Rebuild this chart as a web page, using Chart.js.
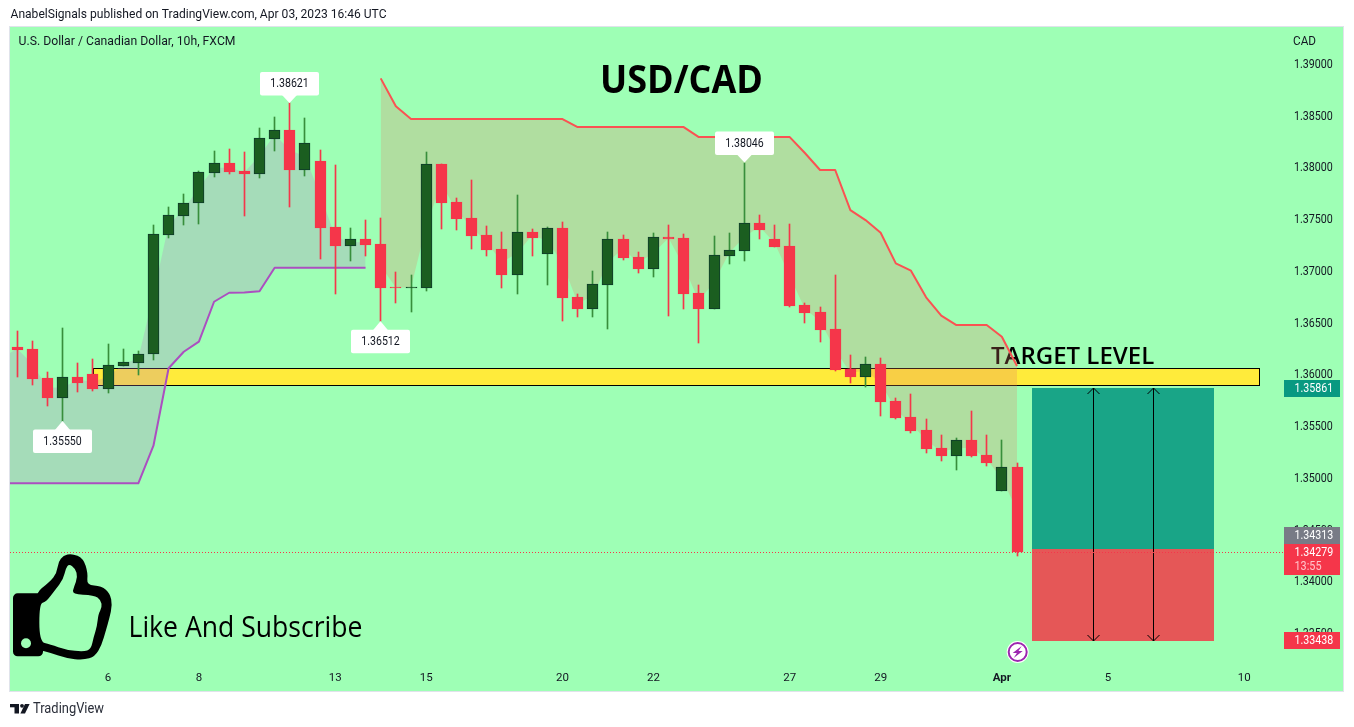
<!DOCTYPE html>
<html><head><meta charset="utf-8">
<style>html,body{margin:0;padding:0;background:#fff;overflow:hidden}canvas{display:block}</style>
<script src="https://cdn.jsdelivr.net/npm/chart.js@4"></script>
</head><body><canvas id="c" width="1354" height="727"></canvas>
<script>
const opens=[1.36264,1.36244,1.35964,1.35774,1.35974,1.36003,1.35861,1.36083,1.36112,1.36193,
1.37349,1.37532,1.37652,1.37947,1.38041,1.37964,1.37938,1.38276,1.38360,1.37976,
1.38060,1.37423,1.37242,1.37307,1.37259,1.36843,1.36834,1.36837,1.38031,1.37664,
1.37510,1.37346,1.37210,1.36962,1.37375,1.37165,1.37413,1.36747,1.36634,1.36866,
1.37307,1.37133,1.37020,1.37326,1.37317,1.36785,1.36634,1.37146,1.37194,1.37462,
1.37307,1.37239,1.36669,1.36602,1.36438,1.36051,1.35977,1.36099,1.35742,1.35588,
1.35462,1.35288,1.35214,1.35365,1.35220,1.34876,1.35105];
const closes=[1.36235,1.35955,1.35774,1.35971,1.35916,1.35858,1.36087,1.36116,1.36193,1.37352,
1.37536,1.37652,1.37951,1.38038,1.37954,1.37938,1.38280,1.38357,1.37974,1.38231,
1.37413,1.37239,1.37304,1.37249,1.36834,1.36834,1.36843,1.38029,1.37655,1.37500,
1.37336,1.37201,1.36959,1.37372,1.37317,1.37410,1.36737,1.36631,1.36869,1.37304,
1.37123,1.37017,1.37323,1.37307,1.36776,1.36631,1.37150,1.37198,1.37459,1.37394,
1.37230,1.36660,1.36592,1.36428,1.36042,1.35974,1.36097,1.35732,1.35578,1.35452,
1.35278,1.35211,1.35362,1.35211,1.35143,1.35102,1.34279];
const highs=[1.36418,1.36322,1.36022,1.36447,1.36109,1.36148,1.36293,1.36244,1.36225,1.37442,
1.37616,1.37742,1.37961,1.38157,1.38176,1.38147,1.38379,1.38486,1.38621,1.38476,
1.38167,1.38022,1.37413,1.37491,1.37510,1.36988,1.36959,1.38147,1.38031,1.37703,
1.37877,1.37433,1.37375,1.37732,1.37404,1.37423,1.37471,1.36776,1.36998,1.37375,
1.37346,1.37181,1.37365,1.37442,1.37355,1.36863,1.37336,1.37365,1.38046,1.37539,
1.37442,1.37452,1.36689,1.36650,1.36959,1.36186,1.36167,1.36157,1.35771,1.35810,
1.35568,1.35414,1.35385,1.35645,1.35414,1.35365,1.35143];
const lows=[1.35977,1.35897,1.35697,1.35550,1.35832,1.35842,1.35822,1.36083,1.35996,1.36141,
1.37320,1.37442,1.37455,1.37909,1.37938,1.37532,1.37899,1.38160,1.37619,1.37918,
1.37117,1.36776,1.37097,1.37146,1.36512,1.36689,1.36602,1.36808,1.37404,1.37394,
1.37210,1.37143,1.36834,1.36776,1.37143,1.36863,1.36515,1.36554,1.36554,1.36438,
1.37104,1.36979,1.36940,1.36563,1.36631,1.36302,1.36631,1.37066,1.37094,1.37307,
1.37230,1.36650,1.36496,1.36312,1.36032,1.35916,1.35877,1.35597,1.35568,1.35433,
1.35240,1.35162,1.35076,1.35201,1.35114,1.34873,1.34245];
// Body mid-points from bar -1 (just off the left edge) to bar 66
const bodyMid=[1.36157,1.36250,1.36100,1.35869,1.35873,1.35945,1.35931,1.35974,1.36100,1.36153,1.36773,
1.37443,1.37592,1.37802,1.37993,1.37998,1.37951,1.38109,1.38317,1.38167,1.38104,
1.37737,1.37331,1.37273,1.37278,1.37047,1.36839,1.36839,1.37433,1.37843,1.37582,
1.37423,1.37274,1.37085,1.37167,1.37346,1.37288,1.37075,1.36689,1.36752,1.37085,
1.37215,1.37075,1.37172,1.37317,1.37047,1.36708,1.36892,1.37172,1.37327,1.37428,
1.37269,1.36950,1.36631,1.36515,1.36240,1.36013,1.36037,1.35916,1.35660,1.35520,
1.35370,1.35250,1.35288,1.35288,1.35182,1.34989,1.34692];
const supportLine=[1.34947,1.34947,1.34947,1.34947,1.34947,1.34947,1.34947,1.34947,1.34947,1.34947,
1.35310,1.36058,1.36218,1.36315,1.36701,1.36788,1.36790,1.36802,
1.37030,1.37030,1.37030,1.37030,1.37030,1.37030,1.37030];
const resistanceLine=[1.38859,1.38589,
1.38466,1.38466,1.38466,1.38466,1.38466,1.38466,1.38466,1.38466,1.38466,1.38466,1.38466,
1.38389,1.38389,1.38389,1.38389,1.38389,1.38389,1.38389,1.38389,
1.38292,1.38292,1.38292,1.38292,1.38292,1.38292,1.38292,
1.38138,1.37974,1.37974,1.37587,1.37490,1.37368,1.37072,1.37001,1.36744,1.36566,1.36476,1.36476,1.36476,1.36363,1.36080];
const xTickPositions=[6,12,21,27,36,42,51,57,65,72,81];
const xTickLabels=['6','8','13','15','20','22','27','29','Apr','5','10'];
const yTickValues=[1.39,1.385,1.38,1.375,1.37,1.365,1.36,1.355,1.35,1.345,1.34,1.335];
const xRange=[-0.469,83.623];
const yRange=[1.331913,1.393556];
const zoneX=[5,81.96];
const zonePrice=[1.35894,1.36058];
const toolX=[67,79];
const toolPrice={target:1.35861,entry:1.34313,stop:1.33438};
const arrowX=[71,75];
const lastPrice=1.34279;
const calloutsUp=[[18,1.38621,'1.38621'],[48,1.38046,'1.38046']];
const calloutsDown=[[3,1.35550,'1.35550'],[24,1.36512,'1.36512']];
const axisTags=[['1.35861',388.5,'#089981'],['1.34313',535.5,'#787B86'],['1.33438',640.5,'#F5364A']];

const BG='#9EFFB5',RED='#F5364A',GREEN='#1B5E20',GREENB='#0E3B2A',WICKG='#388E3C',INK='#131722';
const UI="'Roboto',sans-serif";
const SANS="'Open Sans','Noto Sans',sans-serif";
const up=i=>closes[i]>=opens[i];

function txt(ctx,s,x,y,font,color,align,maxW){
  ctx.font=font;ctx.fillStyle=color;ctx.textAlign=align||'left';ctx.textBaseline='middle';
  if(maxW)ctx.fillText(s,x,y,maxW);else ctx.fillText(s,x,y);
}
function smooth(ctx,p){
  const n=p.length;const m=(a,b)=>[(a[0]+b[0])/2,(a[1]+b[1])/2];
  const s=m(p[n-1],p[0]);ctx.moveTo(s[0],s[1]);
  for(let i=0;i<n;i++){const e=m(p[i],p[(i+1)%n]);ctx.quadraticCurveTo(p[i][0],p[i][1],e[0],e[1]);}
  ctx.closePath();
}
function drawThumb(ctx){
  ctx.save();ctx.translate(0,540);ctx.scale(1/3,1/3);
  ctx.fillStyle='#000';ctx.beginPath();ctx.roundRect(39,160,90,189,14);ctx.fill();
  ctx.beginPath();
  smooth(ctx,[[100,165],[150,125],[170,100],[175,65],[190,47],[215,40],[250,55],[264,100],[260,135],[305,138],[330,160],[337,195],[328,235],[318,270],[305,315],[285,350],[250,360],[200,355],[150,338],[100,325]]);
  ctx.fill();
  ctx.fillStyle=BG;ctx.beginPath();
  smooth(ctx,[[118,190],[138,186],[165,150],[190,118],[197,85],[207,72],[226,85],[233,112],[222,140],[216,163],[282,165],[303,180],[306,203],[295,222],[291,260],[281,290],[273,328],[250,335],[200,330],[150,313],[118,305]]);
  ctx.fill();
  ctx.beginPath();ctx.arc(78,310,15,0,Math.PI*2);ctx.fill();
  ctx.restore();
}
function drawLogo(ctx){
  ctx.fillStyle=INK;
  ctx.fillRect(10,704,9,3.3);ctx.fillRect(14.5,704,4.5,9.5);
  ctx.beginPath();ctx.arc(22,705.8,1.9,0,Math.PI*2);ctx.fill();
  ctx.beginPath();ctx.moveTo(25,704);ctx.lineTo(29.6,704);ctx.lineTo(25,713.5);ctx.lineTo(20.4,713.5);ctx.closePath();ctx.fill();
}
function drawBolt(ctx,x,y){
  ctx.fillStyle='#fff';ctx.beginPath();ctx.arc(x,y,11,0,Math.PI*2);ctx.fill();
  ctx.strokeStyle='#9C27B0';ctx.lineWidth=2;ctx.beginPath();ctx.arc(x,y,9,0,Math.PI*2);ctx.stroke();
  ctx.fillStyle='#9C27B0';ctx.beginPath();
  ctx.moveTo(x+4,y-6);ctx.lineTo(x-5,y+1);ctx.lineTo(x-0.8,y+1);ctx.lineTo(x-4,y+6);ctx.lineTo(x+5,y-1);ctx.lineTo(x+0.8,y-1);ctx.closePath();ctx.fill();
}

const snapPlugin={id:'snap',afterDatasetsUpdate(chart){
  chart.data.datasets.forEach((d,k)=>{
    if(d.type!=='bar')return;
    chart.getDatasetMeta(k).data.forEach(el=>{
      el.x=Math.floor(el.x)+0.5;
      let a=Math.round(el.y),b=Math.round(el.base);
      if(a===b)b=a+1;
      el.y=a;el.base=b;
    });
  });
}};
const decorPlugin={id:'decor',
  beforeDraw(chart){
    const c=chart.ctx;
    c.save();
    c.fillStyle='#fff';c.fillRect(0,0,1354,727);
    c.fillStyle='#E0E3EB';c.fillRect(9,26,1335,666);
    c.fillStyle=BG;c.fillRect(10,27,1333,664);
    txt(c,'AnabelSignals published on TradingView.com, Apr 03, 2023 16:46 UTC',10.5,15,"13px "+UI,INK,'left',376);
    txt(c,'U.S. Dollar / Canadian Dollar, 10h, FXCM',18.5,41.5,"13px "+UI,INK,'left',217);
    txt(c,'CAD',1293,41.5,"12px "+UI,INK,'left',23);
    txt(c,'TradingView',33,709.5,"14px "+UI,'#2A2E39','left',71);
    drawLogo(c);
    c.restore();
  },
  beforeDatasetsDraw(chart){
    const c=chart.ctx,X=chart.scales.x,Y=chart.scales.y;
    c.save();
    const zl=Math.round(X.getPixelForValue(zoneX[0]))+.5,zr=Math.round(X.getPixelForValue(zoneX[1]))+.5;
    const zt=Math.round(Y.getPixelForValue(zonePrice[1]))+.5,zb=Math.round(Y.getPixelForValue(zonePrice[0]))+.5;
    c.fillStyle='#FFEB3B';c.strokeStyle='#000';c.lineWidth=1;
    c.fillRect(zl,zt,zr-zl,zb-zt);c.strokeRect(zl,zt,zr-zl,zb-zt);
    const tl=Math.round(X.getPixelForValue(toolX[0])),tr=Math.round(X.getPixelForValue(toolX[1]));
    const yT=Math.round(Y.getPixelForValue(toolPrice.target)-.3),yE=Math.round(Y.getPixelForValue(toolPrice.entry)-.3),yS=Math.ceil(Y.getPixelForValue(toolPrice.stop)+.6);
    c.fillStyle='#19A587';c.fillRect(tl,yT,tr-tl,yE-yT);
    c.fillStyle='#E55757';c.fillRect(tl,yE,tr-tl,yS-yE);
    arrowX.forEach(a=>{
      const x=Math.round(X.getPixelForValue(a))+.5;
      c.strokeStyle='#000';c.lineWidth=1;c.beginPath();
      c.moveTo(x,yT);c.lineTo(x,yS);
      c.moveTo(x-6,yT+6);c.lineTo(x,yT);c.lineTo(x+6,yT+6);
      c.moveTo(x-6,yS-6);c.lineTo(x,yS);c.lineTo(x+6,yS-6);
      c.stroke();
    });
    txt(c,'TARGET LEVEL',991,357,"600 24px "+SANS,'#000','left',164);
    txt(c,'USD/CAD',600,82,"bold 39px "+SANS,'#000','left',163);
    txt(c,'Like And Subscribe',128.5,629,"29px "+SANS,'#000','left',234);
    drawThumb(c);
    c.restore();
  },
  afterDatasetsDraw(chart){
    const c=chart.ctx,X=chart.scales.x,Y=chart.scales.y;
    c.save();
    const yL=Math.round(Y.getPixelForValue(lastPrice))+.5;
    c.strokeStyle=RED;c.lineWidth=1;c.setLineDash([1,2]);
    c.beginPath();c.moveTo(10,yL);c.lineTo(X.right,yL);c.stroke();c.setLineDash([]);
    const tag=(x,top,tipY,s)=>{
      c.fillStyle='#fff';c.beginPath();c.roundRect(x-29.5,top,59,23.5,2);c.fill();
      c.beginPath();c.moveTo(x-8,tipY<top?top+1:top+22.5);c.lineTo(x,tipY);c.lineTo(x+8,tipY<top?top+1:top+22.5);c.closePath();c.fill();
      txt(c,s,x,top+12,"13px "+UI,INK,'center',38.5);
    };
    calloutsUp.forEach(([i,v,s])=>{const x=Math.floor(X.getPixelForValue(i))+.5,y=Y.getPixelForValue(v);tag(x,y-31,y,s);});
    calloutsDown.forEach(([i,v,s])=>{const x=Math.floor(X.getPixelForValue(i))+.5,y=Y.getPixelForValue(v);tag(x,y+8.5,y,s);});
    drawBolt(c,1017.7,652);
    c.restore();
  },
  afterDraw(chart){
    const c=chart.ctx;
    c.save();
    axisTags.forEach(([s,y,col])=>{
      c.fillStyle=col;c.fillRect(1284,y-8.5,56,17);
      txt(c,s,1294.5,y+.5,"13px "+UI,'#fff','left',38.7);
    });
    c.fillStyle=RED;c.fillRect(1284,544,56,31);
    txt(c,'1.34279',1294.5,552.5,"13px "+UI,'#fff','left',38.7);
    txt(c,'13:55',1294.5,567,"13px "+UI,'#FFC4CA','left',27);
    c.restore();
  }
};
// Price labels are narrower than any installed face, so the axis draws them condensed about their left edge.
function condensePriceLabels(axis){
  if(axis._condensed)return;axis._condensed=true;
  const orig=axis.drawLabels.bind(axis);
  axis.drawLabels=function(area){
    const c=axis.ctx,x0=axis.left+10;
    c.save();c.translate(x0,1);c.scale(0.855,1);c.translate(-x0,0);orig(area);c.restore();
  };
}

new Chart(document.getElementById('c'),{
  type:'bar',
  data:{datasets:[
    {type:'line',label:'Support',data:supportLine.map((v,k)=>({x:k-1,y:v})),borderColor:'#AB4FC0',borderWidth:2,pointRadius:0,tension:0,fill:1,backgroundColor:'rgba(185,120,196,0.26)',order:10,borderJoinStyle:'round'},
    {type:'line',label:'Body mid (up)',data:bodyMid.slice(0,25).map((v,k)=>({x:k-1,y:v})),borderWidth:0,borderColor:'transparent',pointRadius:0,tension:0,fill:false,order:11},
    {type:'line',label:'Resistance',data:resistanceLine.map((v,k)=>({x:k+24,y:v})),borderColor:'#FA5252',borderWidth:2,pointRadius:0,tension:0,fill:3,backgroundColor:'rgba(227,128,100,0.26)',order:10,borderJoinStyle:'round'},
    {type:'line',label:'Body mid (down)',data:bodyMid.slice(25).map((v,k)=>({x:k+24,y:v})),borderWidth:0,borderColor:'transparent',pointRadius:0,tension:0,fill:false,order:11},
    {type:'bar',label:'Wicks',data:lows.map((l,i)=>({x:i,y:[l,highs[i]]})),backgroundColor:lows.map((l,i)=>up(i)?WICKG:RED),borderWidth:0,barThickness:1,grouped:false,order:5,borderSkipped:false},
    {type:'bar',label:'Bodies',data:opens.map((o,i)=>({x:i,y:[o,closes[i]]})),backgroundColor:opens.map((o,i)=>up(i)?GREEN:RED),borderColor:opens.map((o,i)=>up(i)?GREENB:RED),borderWidth:1,barThickness:11,grouped:false,order:1,borderSkipped:false}
  ]},
  options:{
    responsive:false,animation:false,devicePixelRatio:1,
    layout:{padding:{left:10,top:27,right:10,bottom:35}},
    plugins:{legend:{display:false},tooltip:{enabled:false},title:{display:false}},
    scales:{
      x:{type:'linear',offset:false,min:xRange[0],max:xRange[1],grid:{display:false,drawTicks:false},border:{display:false},
        afterBuildTicks(a){a.ticks=xTickPositions.map(v=>({value:v}));},
        afterFit(a){a.height=27;},
        ticks:{autoSkip:false,maxRotation:0,minRotation:0,padding:6,color:INK,
          font:c=>({family:UI,size:11.5,weight:(c.tick&&c.tick.value===65)?'bold':'normal'}),
          callback:v=>xTickLabels[xTickPositions.indexOf(v)]}},
      y:{type:'linear',position:'right',beginAtZero:false,min:yRange[0],max:yRange[1],grid:{display:false,drawTicks:false},border:{display:false},
        afterBuildTicks(a){a.ticks=yTickValues.map(v=>({value:v}));condensePriceLabels(a);},
        afterFit(a){a.width=60;},
        ticks:{padding:10,color:INK,font:{family:UI,size:12.5},callback:v=>v.toFixed(5)}}
    }
  },
  plugins:[snapPlugin,decorPlugin]
});
</script></body></html>
